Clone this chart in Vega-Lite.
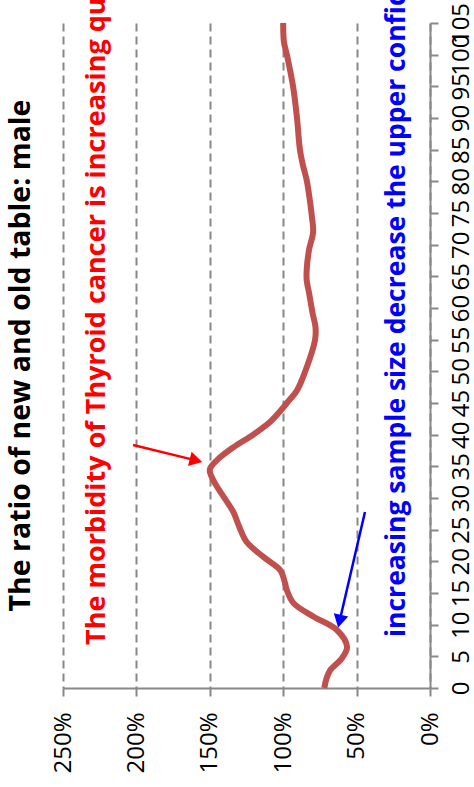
{
  "$schema": "https://vega.github.io/schema/vega-lite/v6.json",
  "autosize": {"type": "none"},
  "width": 367,
  "height": 665,
  "padding": {"left": 63, "top": 23, "right": 44, "bottom": 99},
  "background": "white",
  "title": {
    "text": "The ratio of new and old table: male",
    "orient": "left",
    "anchor": "middle",
    "offset": 16,
    "font": "Open Sans",
    "fontSize": 28.5,
    "fontWeight": "bold",
    "color": "black"
  },
  "config": {
    "view": {"stroke": null},
    "font": "Open Sans",
    "axis": {"labelOverlap": false}
  },
  "resolve": {"axis": {"y": "independent"}},
  "datasets": {
    "ratio": [
      {"age": 0, "ratio": 0.72},
      {"age": 1.5, "ratio": 0.705},
      {"age": 2.8, "ratio": 0.68},
      {"age": 4.7, "ratio": 0.60},
      {"age": 6.5, "ratio": 0.565},
      {"age": 9.2, "ratio": 0.636},
      {"age": 11.3, "ratio": 0.795},
      {"age": 13.4, "ratio": 0.93},
      {"age": 15.5, "ratio": 0.976},
      {"age": 16.6, "ratio": 0.988},
      {"age": 18.6, "ratio": 1.02},
      {"age": 20.7, "ratio": 1.135},
      {"age": 23.1, "ratio": 1.25},
      {"age": 25.5, "ratio": 1.3},
      {"age": 27.8, "ratio": 1.34},
      {"age": 30, "ratio": 1.40},
      {"age": 32.8, "ratio": 1.476},
      {"age": 34.5, "ratio": 1.50},
      {"age": 36, "ratio": 1.45},
      {"age": 38, "ratio": 1.34},
      {"age": 40, "ratio": 1.205},
      {"age": 42, "ratio": 1.09},
      {"age": 44, "ratio": 1.01},
      {"age": 45, "ratio": 0.975},
      {"age": 47, "ratio": 0.906},
      {"age": 50, "ratio": 0.85},
      {"age": 55, "ratio": 0.783},
      {"age": 57, "ratio": 0.78},
      {"age": 59.2, "ratio": 0.80},
      {"age": 62.4, "ratio": 0.824},
      {"age": 64.4, "ratio": 0.84},
      {"age": 66, "ratio": 0.84},
      {"age": 69.2, "ratio": 0.824},
      {"age": 72, "ratio": 0.796},
      {"age": 74.5, "ratio": 0.805},
      {"age": 77.1, "ratio": 0.819},
      {"age": 80.2, "ratio": 0.84},
      {"age": 82.5, "ratio": 0.865},
      {"age": 85, "ratio": 0.886},
      {"age": 90, "ratio": 0.906},
      {"age": 95, "ratio": 0.933},
      {"age": 100, "ratio": 0.975},
      {"age": 102, "ratio": 0.995},
      {"age": 105, "ratio": 1.0}
    ],
    "notes": [
      {"label": "The morbidity of Thyroid cancer is increasing quickly", "age": 6.8, "ratio": 2.214, "group": "red"},
      {"label": "increasing sample size decrease the upper confidence interval", "age": 8.05, "ratio": 0.17, "group": "blue"}
    ],
    "arrows": [
      {"group": "red", "ratio": 2.023, "age": 38.37, "ratio2": 1.594, "age2": 35.94},
      {"group": "blue", "ratio": 0.443, "age": 27.8, "ratio2": 0.616, "age2": 10.55}
    ]
  },
  "layer": [
    {
      "data": {"name": "ratio"},
      "mark": {"type": "line", "color": "#C0504D", "strokeWidth": 6, "interpolate": "catmull-rom", "strokeCap": "butt", "clip": false},
      "encoding": {
        "x": {
          "field": "ratio", "type": "quantitative",
          "scale": {"domain": [0, 2.5], "reverse": true, "nice": false, "zero": false},
          "axis": {
            "orient": "bottom",
            "title": null,
            "values": [0, 0.5, 1, 1.5, 2, 2.5],
            "format": ".0%",
            "labelAngle": -90,
            "labelAlign": "right",
            "labelBaseline": "middle",
            "labelPadding": 16,
            "labelFont": "Open Sans",
            "labelFontSize": 24,
            "labelColor": "black",
            "labelOverlap": false,
            "labelFlush": false,
            "domainColor": "#888888",
            "domainWidth": 2,
            "tickColor": "#888888",
            "tickWidth": 2,
            "tickSize": 8,
            "grid": true,
            "gridColor": "#888888",
            "gridWidth": 2,
            "gridDash": [8, 5]
          }
        },
        "y": {
          "field": "age", "type": "quantitative",
          "scale": {"domain": [0, 105], "nice": false, "zero": false},
          "axis": {
            "orient": "right",
            "title": null,
            "values": [0, 10, 20, 30, 40, 50, 60, 70, 80, 90, 100],
            "labelAngle": -90,
            "labelAlign": "center",
            "labelBaseline": "top",
            "labelPadding": 11,
            "labelFont": "Open Sans",
            "labelFontSize": 24,
            "labelColor": "black",
            "labelOverlap": false,
            "labelFlush": false,
            "labelBound": false,
            "domainColor": "#888888",
            "domainWidth": 2,
            "tickColor": "#888888",
            "tickWidth": 2,
            "tickSize": 8,
            "grid": false
          }
        },
        "order": {"field": "age", "type": "quantitative"}
      }
    },
    {
      "data": {"name": "arrows"},
      "mark": {"type": "rule", "strokeWidth": 2.5},
      "encoding": {
        "x": {"field": "ratio", "type": "quantitative"},
        "x2": {"field": "ratio2"},
        "y": {
          "field": "age", "type": "quantitative",
          "axis": {
            "orient": "right",
            "title": null,
            "values": [5, 15, 25, 35, 45, 55, 65, 75, 85, 95, 105],
            "labelAngle": -90,
            "labelAlign": "center",
            "labelBaseline": "top",
            "labelPadding": 11,
            "labelFont": "Open Sans",
            "labelFontSize": 24,
            "labelColor": "black",
            "labelOverlap": false,
            "labelFlush": false,
            "labelBound": false,
            "domain": false,
            "tickColor": "#888888",
            "tickWidth": 2,
            "tickSize": 8,
            "grid": false
          }
        },
        "y2": {"field": "age2"},
        "color": {"field": "group", "type": "nominal", "scale": {"domain": ["red", "blue"], "range": ["#FF0000", "#0000FF"]}, "legend": null}
      }
    },
    {
      "data": {"name": "arrows"},
      "transform": [{"filter": "datum.group == 'red'"}],
      "mark": {"type": "point", "shape": "triangle-up", "filled": true, "size": 220, "angle": 104, "color": "#FF0000", "opacity": 1},
      "encoding": {
        "x": {"field": "ratio2", "type": "quantitative"},
        "y": {"field": "age2", "type": "quantitative", "axis": null}
      }
    },
    {
      "data": {"name": "arrows"},
      "transform": [{"filter": "datum.group == 'blue'"}],
      "mark": {"type": "point", "shape": "triangle-up", "filled": true, "size": 220, "angle": 193, "color": "#0000FF", "opacity": 1},
      "encoding": {
        "x": {"field": "ratio2", "type": "quantitative"},
        "y": {"field": "age2", "type": "quantitative", "axis": null}
      }
    },
    {
      "data": {"name": "notes"},
      "transform": [{"filter": "datum.group == 'red'"}],
      "mark": {"type": "text", "angle": 270, "align": "left", "baseline": "alphabetic", "font": "Open Sans", "fontSize": 27, "fontWeight": "bold", "color": "#FF0000"},
      "encoding": {
        "x": {"field": "ratio", "type": "quantitative"},
        "y": {"field": "age", "type": "quantitative", "axis": null},
        "text": {"field": "label"}
      }
    },
    {
      "data": {"name": "notes"},
      "transform": [{"filter": "datum.group == 'blue'"}],
      "mark": {"type": "text", "angle": 270, "align": "left", "baseline": "alphabetic", "font": "Open Sans", "fontSize": 26.5, "fontWeight": "bold", "color": "#0000FF"},
      "encoding": {
        "x": {"field": "ratio", "type": "quantitative"},
        "y": {"field": "age", "type": "quantitative", "axis": null},
        "text": {"field": "label"}
      }
    }
  ]
}
